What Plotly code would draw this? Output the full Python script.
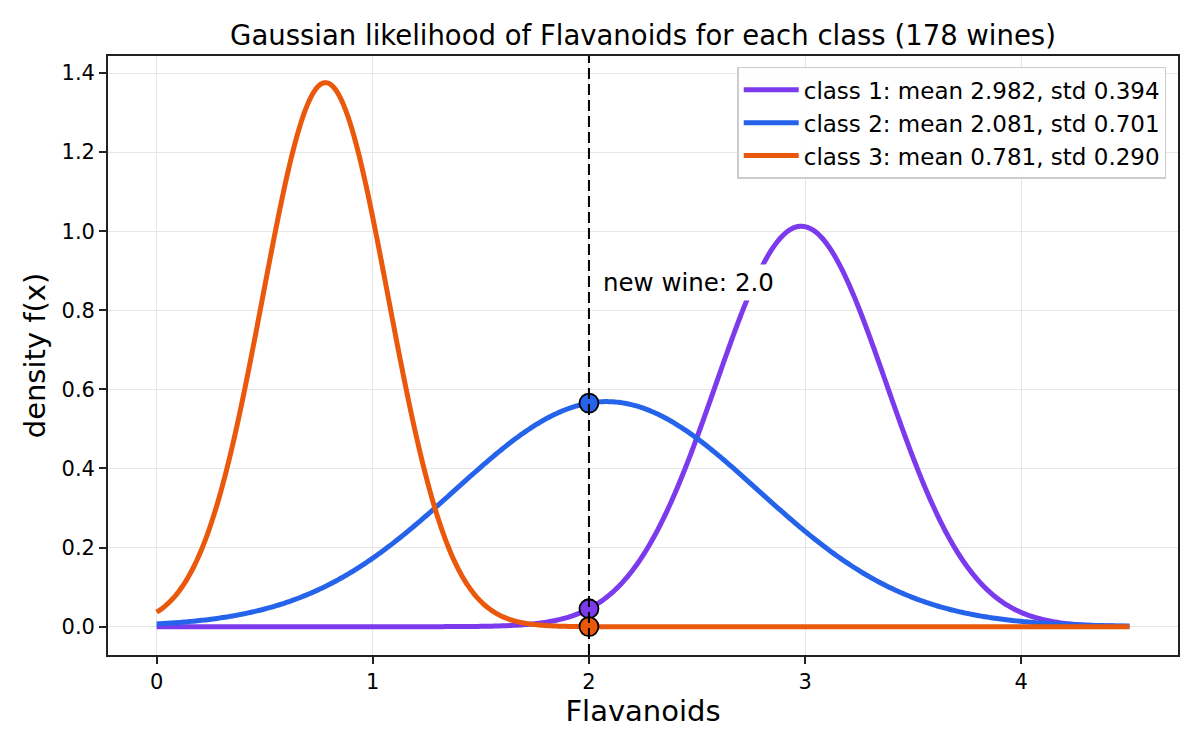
import numpy as np
import plotly.graph_objects as go

# class parameters for Flavanoids (from the legend)
class_names = ["class 1", "class 2", "class 3"]
class_means = [2.982, 2.081, 0.781]
class_stds = [0.394, 0.701, 0.290]
class_colors = ["#7c3aed", "#2563eb", "#ea580c"]

new_wine = 2.0
x_lo, x_hi = 0.0, 4.5
y_ticks = [0.0, 0.2, 0.4, 0.6, 0.8, 1.0, 1.2, 1.4]
x_ticks = [0, 1, 2, 3, 4]

FONT = "DejaVu Sans"


def gauss_pdf(x, mu, sd):
    return np.exp(-0.5 * ((x - mu) / sd) ** 2) / (sd * np.sqrt(2 * np.pi))


xs = np.linspace(x_lo, x_hi, 500)

fig = go.Figure()
for name, mu, sd, col in zip(class_names, class_means, class_stds, class_colors):
    fig.add_trace(go.Scatter(
        x=xs, y=gauss_pdf(xs, mu, sd), mode="lines",
        line=dict(color=col, width=5, simplify=False),
        name=f"{name}: mean {mu:.3f}, std {sd:.3f}",
    ))

# likelihood of the new wine under each class
for mu, sd, col in zip(class_means, class_stds, class_colors):
    fig.add_trace(go.Scatter(
        x=[new_wine], y=[gauss_pdf(new_wine, mu, sd)], mode="markers",
        marker=dict(size=19, color=col, line=dict(color="black", width=1.8)),
        showlegend=False, hoverinfo="skip",
    ))

fig.add_shape(type="line", x0=new_wine, x1=new_wine, xref="x", yref="paper",
              y0=0, y1=1, line=dict(color="black", width=2, dash="11px,5px"))

fig.add_annotation(x=new_wine + 0.045, y=0.87, xref="x", yref="y",
                   text="new wine: 2.0", showarrow=False, xanchor="left",
                   yanchor="middle", bgcolor="white", borderpad=3,
                   font=dict(family=FONT, size=24.5, color="black"))

axis_common = dict(
    showline=True, linecolor="#222", linewidth=1.7, mirror=True,
    ticks="outside", ticklen=7, tickwidth=1.7, tickcolor="#222",
    showgrid=True, gridcolor="#e6e6e6", gridwidth=1, zeroline=False,
    automargin=False,
    tickfont=dict(family=FONT, size=21, color="black"),
)

# page body has an 8px margin, so the figure is a bit smaller than the window
fig.update_layout(
    width=1184, height=734,
    paper_bgcolor="white", plot_bgcolor="white",
    margin=dict(l=100, r=14, t=48, b=87),
    title=dict(text="Gaussian likelihood of Flavanoids for each class (178 wines)",
               xref="paper", x=0.5, xanchor="center", y=0.963, yanchor="middle",
               font=dict(family=FONT, size=27.5, color="black")),
    xaxis=dict(axis_common, range=[-0.225, 4.725], tickvals=x_ticks,
               title=dict(text="Flavanoids", standoff=8,
                          font=dict(family=FONT, size=29, color="black"))),
    yaxis=dict(axis_common, range=[-0.0716, 1.443], tickvals=y_ticks,
               tickformat=".1f",
               title=dict(text="density f(x)", standoff=7,
                          font=dict(family=FONT, size=29, color="black"))),
    legend=dict(x=0.989, y=0.982, xanchor="right", yanchor="top",
                bgcolor="rgba(255,255,255,0.85)", bordercolor="#cccccc",
                borderwidth=1.5, font=dict(family=FONT, size=23, color="black"),
                tracegroupgap=2, itemwidth=55),
    showlegend=True,
)

fig.write_html("out.html")
